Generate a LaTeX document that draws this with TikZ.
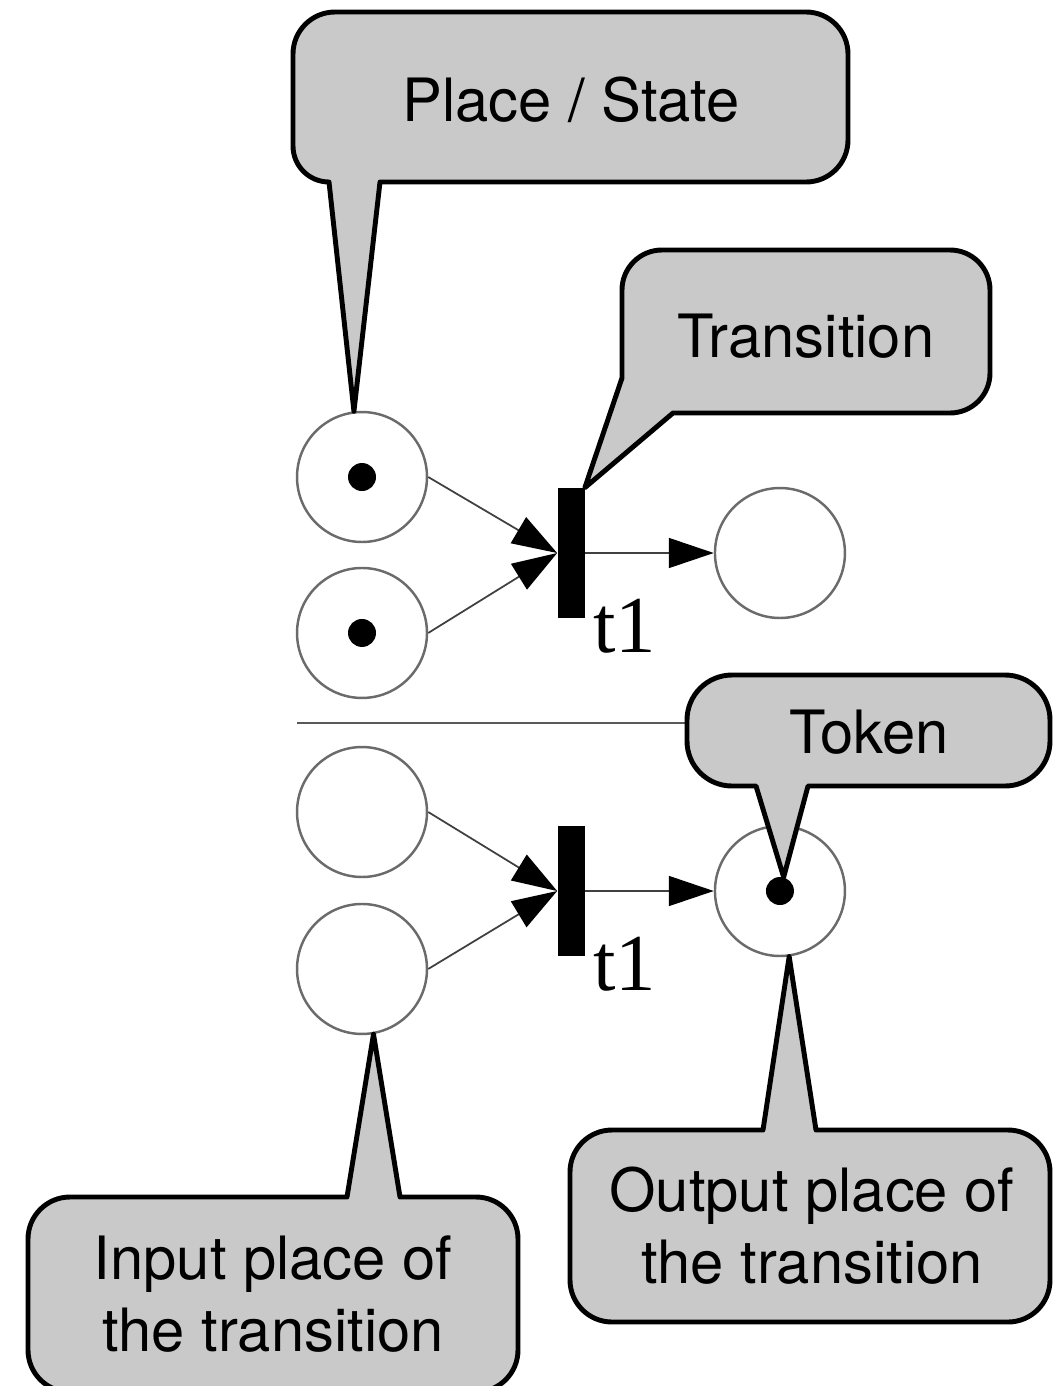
\documentclass[tikz,border=0pt]{standalone}
\usepackage{fontspec}
\setsansfont{TeX Gyre Heros}
\newfontfamily\seriffont{Liberation Serif}
\usetikzlibrary{positioning,calc,arrows.meta}
\definecolor{bubblegray}{RGB}{201,201,201}

\begin{document}
\begin{tikzpicture}[x=0.02cm, y=-0.02cm,
		place/.style={circle, draw=black!58, line width=1.4pt, minimum size=2.6cm, inner sep=0pt},
		tokendot/.style={circle, fill=black, minimum size=0.56cm, inner sep=0pt},
		transbar/.style={rectangle, fill=black, minimum width=0.54cm, minimum height=2.6cm, inner sep=0pt},
		flow/.style={draw=black!75, line width=1pt, -{Triangle[length=0.9cm, width=0.6cm, color=black]}},
		bubble/.style={draw=black, fill=bubblegray, line width=2.8pt, line join=round},
		bubbletext/.style={font=\sffamily\fontsize{34}{41}\selectfont, align=center, inner sep=0pt},
		trlabel/.style={font=\seriffont\fontsize{46}{50}\selectfont, inner sep=0pt}]
		\useasboundingbox (0,0) rectangle (1054,1386);

		% Net before firing
		\node [place] (p1) at (362,477) {};
		\node [place,below of=p1,node distance=3.12cm] (p2) {};
		\node [transbar] (bar1) at (571,553) {};
		\node [place,right of=bar1,node distance=4.18cm] (out1) {};
		\node [tokendot] (tok1) at (p1) {};
		\node [tokendot] (tok2) at (p2) {};
		\draw [flow] (p1.east) -- (bar1.west);
		\draw [flow] (p2.east) -- (bar1.west);
		\draw [flow] (bar1.east) -- (out1.west);
		\node [trlabel,anchor=base west] (lab1) at ($(bar1.south east)+(8,34)$) {t1};

		% Divider
		\draw [black!65, line width=1.1pt] (297,723) -- (700,723);

		% Net after firing
		\node [place] (p3) at (362,812) {};
		\node [place,below of=p3,node distance=3.14cm] (p4) {};
		\node [transbar] (bar2) at (571,891) {};
		\node [place,right of=bar2,node distance=4.18cm] (out2) {};
		\node [tokendot] (tok3) at (out2) {};
		\draw [flow] (p3.east) -- (bar2.west);
		\draw [flow] (p4.east) -- (bar2.west);
		\draw [flow] (bar2.east) -- (out2.west);
		\node [trlabel,anchor=base west] (lab2) at ($(bar2.south east)+(8,34)$) {t1};

		% Callouts
		\draw [bubble] (p1.97) -- (380,182) [rounded corners=0.84cm] -- (848,182) -- (848,12)
			-- (293,12) [rounded corners=0.72cm] -- (293,182) [sharp corners] -- (329,182) -- cycle;
		\draw [bubble] (bar1.north east) -- (673,413) [rounded corners=0.8cm] -- (990,413) -- (990,250)
			-- (622,250) [sharp corners] -- (622,378) -- cycle;
		\draw [bubble] (tok3) -- (808,786) [rounded corners=0.9cm] -- (1050,786) -- (1050,675)
			-- (687,675) -- (687,786) [sharp corners] -- (756,786) -- cycle;
		\draw [bubble] (p4.-80) -- (347,1197) [rounded corners=0.84cm] -- (28,1197) -- (28,1392)
			-- (518,1392) -- (518,1197) [sharp corners] -- (400,1197) -- cycle;
		\draw [bubble] (out2.-82) -- (763,1130) [rounded corners=0.84cm] -- (570,1130) -- (570,1322)
			-- (1050,1322) -- (1050,1130) [sharp corners] -- (816,1130) -- cycle;

		\node [bubbletext,anchor=base] (pstext) at (571,121) {Place / State};
		\node [bubbletext,anchor=base] (trtext) at (806,357) {Transition};
		\node [bubbletext,anchor=base] (tktext) at (869,753) {Token};
		\node [bubbletext] (intext) at (273,1294) {Input place of\\the transition};
		\node [bubbletext] (outtext) at (812,1226) {Output place of\\the transition};
	\end{tikzpicture}
\end{document}
